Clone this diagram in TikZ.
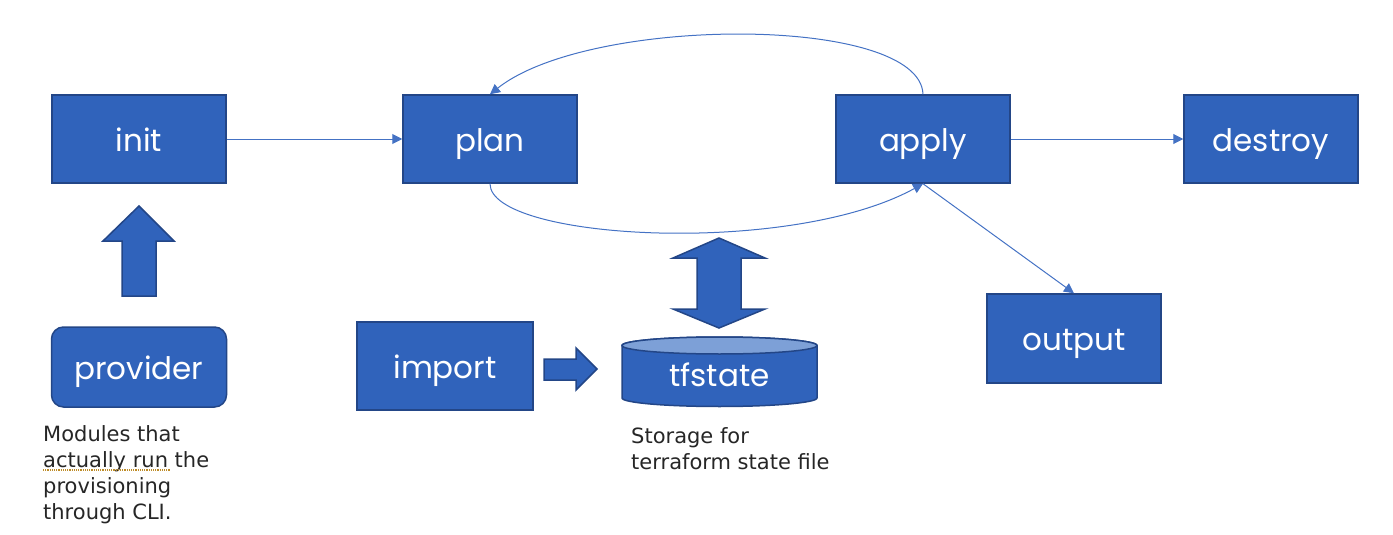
\documentclass[tikz,border=0pt]{standalone}
\usepackage{fontspec}
\setmainfont{DejaVu Sans}
\newfontfamily\boxfont{Poppins}
\usetikzlibrary{arrows.meta}

\definecolor{boxblue}{RGB}{48,99,187}
\definecolor{boxedge}{RGB}{35,70,135}
\definecolor{lineblue}{RGB}{68,114,196}
\definecolor{toplight}{RGB}{125,160,215}
\definecolor{captext}{RGB}{38,38,38}

\tikzset{
  stagetext/.style={text=white, inner sep=0pt, text height=30pt, text depth=6pt,
    font=\boxfont\fontsize{31}{36}\selectfont},
  stage/.style={stagetext, draw=boxedge, line width=1.5pt, fill=boxblue,
    minimum width=174pt, minimum height=88pt},
  flow/.style={draw=lineblue, line width=1pt, -{Triangle[length=10pt,width=10pt]}},
  fat/.style={draw=boxedge, line width=1.5pt, fill=boxblue, line join=miter},
  caption/.style={anchor=north west, inner sep=0pt, align=left, text=captext,
    font=\fontsize{21}{26}\selectfont}
}

\begin{document}
\begin{tikzpicture}[x=1pt,y=-1pt]
        \useasboundingbox (0,0) rectangle (1393,535);

        % Stages
        \node [stage] (init) at (139,139) {init};
        \node [stage] (plan) at (490,139) {plan};
        \node [stage] (apply) at (923,139) {apply};
        \node [stage] (destroy) at (1271,139) {destroy};
        \node [stage, minimum height=89pt] (output) at (1074,338.5) {output};
        \node [stage, minimum width=176pt] (import) at (445,366) {import};
        \node [stage, minimum width=175pt, minimum height=80pt, rounded corners=12pt] (provider) at (139,367) {provider};

        % Cylinder
        \draw [fill=boxblue, draw=boxedge, line width=1.5pt] (622,345.5) -- (622,398)
            arc[start angle=180, end angle=0, x radius=97.5, y radius=8.5] -- (817,345.5)
            arc[start angle=0, end angle=-180, x radius=97.5, y radius=8.5] -- cycle;
        \draw [fill=toplight, draw=boxedge, line width=1.5pt] (719.5,345.5) ellipse [x radius=97.5, y radius=8.5];
        \node [stagetext] (tfstate) at (719.5,374.5) {tfstate};

        %Block Arrows
        \draw [fat] (139,206) -- (174,241) -- (156,241) -- (156,296) -- (122,296) -- (122,241) -- (103,241) -- cycle;
        \draw [fat] (544,359) -- (576,359) -- (576,348) -- (597,369) -- (576,390) -- (576,380) -- (544,380) -- cycle;
        \draw [fat] (719,238) -- (765,258) -- (741,258) -- (741,309) -- (765,309) -- (719,328)
            -- (673,309) -- (697,309) -- (697,258) -- (673,258) -- cycle;

        %Straight Lines
        \draw [flow] (init) -- (plan);
        \draw [flow] (apply) -- (destroy);
        \draw [flow] (apply.south) -- (output.north);
        %Curves
        \draw [flow] (plan.south) .. controls (490,240) and (790,257) .. (apply.south);
        \draw [flow] (apply.north) .. controls (920,15) and (590,15) .. (plan.north);

        % Text Node
        \node [caption] (providernote) at (43,425.5) {Modules that\\actually run the\\provisioning\\through CLI.};
        \draw [densely dotted, color={rgb,255:red,190;green,140;blue,40}, line width=1.2pt] (43,470) -- (170,470);
        % Text Node
        \node [caption] (tfstatenote) at (631,427) {Storage for\\terraform state file};
\end{tikzpicture}
\end{document}
